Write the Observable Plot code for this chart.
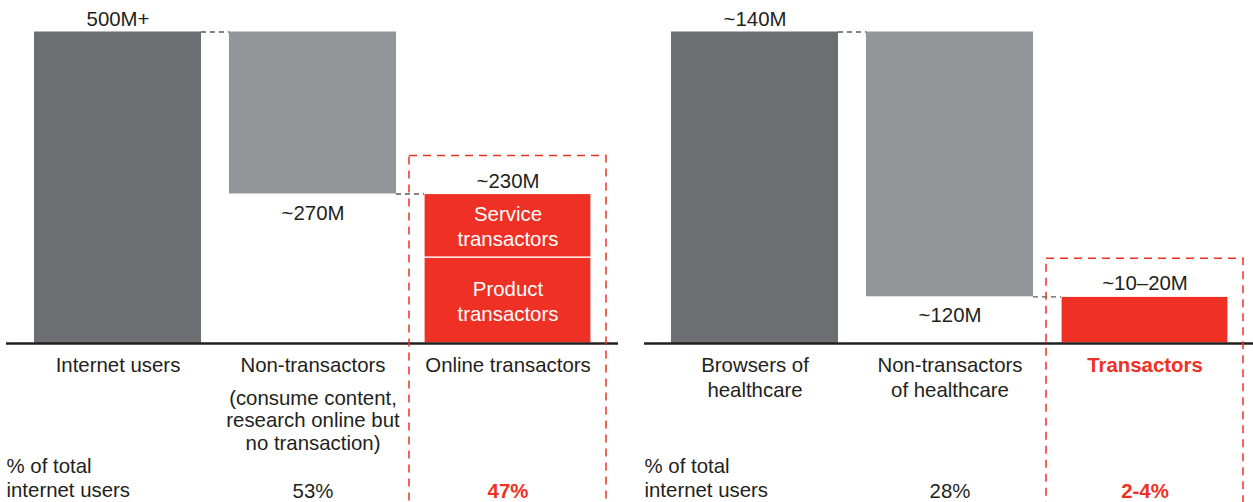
<!DOCTYPE html>
<html><head><meta charset="utf-8">
<script src="https://cdn.jsdelivr.net/npm/d3@7"></script>
<script src="https://cdn.jsdelivr.net/npm/@observablehq/plot@0.6"></script>
<style>
html,body{margin:0;padding:0;background:#fff;}
#chart{display:flex;width:1253px;height:502px;overflow:hidden;}
#chart svg{display:block;overflow:hidden;}
</style></head><body><div id="chart"></div>
<script>
// ---- Data: left panel (all internet users) ----
const leftCategories = ["Internet users", "Non-transactors", "Online transactors"];
const leftTotal = 500;          // height of first bar (M)
const leftRemain = 240;         // height left after the drop (M)
const leftSegments = ["Product\ntransactors", "Service\ntransactors"];
const leftSegmentValues = [138, 102];
const leftValueLabels = ["500M+", "~270M", "~230M"];
const leftSubLabel = "(consume content,\nresearch online but\nno transaction)";
const leftPercents = ["53%", "47%"];

// ---- Data: right panel (healthcare) ----
const rightCategories = ["Browsers of\nhealthcare", "Non-transactors\nof healthcare", "Transactors"];
const rightTotal = 140;
const rightRemain = 21;
const rightSegments = [""];
const rightSegmentValues = [21];
const rightValueLabels = ["~140M", "~120M", "~10–20M"];
const rightPercents = ["28%", "2-4%"];

const rowLabel = "% of total\ninternet users";

// ---- Styles ----
const DARK = "#6d6e71", LIGHT = "#939598", RED = "#ee3124", INK = "#231f20", CONNECT = "#58595b";
const FONT = "'Liberation Sans', Arial, Helvetica, sans-serif";
const FS = 20.4;
const PAD = 0.144;

function panel(o) {
  const {width, marginLeft, marginRight, categories, total, remain, segments, segmentValues,
         valueLabels, subLabel, percents, highlightLast, baseInsetLeft, baseInsetRight} = o;
  const step = (width - marginLeft - marginRight) / (categories.length - PAD);
  const bw = step * (1 - PAD);
  const gap = step - bw;
  const [c0, c1, c2] = categories;
  const segData = segments.map((s, i) => ({cat: c2, label: s, value: segmentValues[i]}));
  let acc = 0;
  const segMid = segData.map(d => { const m = acc + d.value / 2; acc += d.value; return {...d, mid: m}; });
  const normalCats = highlightLast ? [c0, c1] : [c0, c1, c2];
  const boldCats = highlightLast ? [c2] : [];

  return Plot.plot({
    width, height: 502,
    marginTop: 31.5, marginBottom: 159, marginLeft, marginRight,
    style: {fontFamily: FONT, background: "#fff", overflow: "hidden"},
    x: {domain: categories, paddingInner: PAD, paddingOuter: 0, axis: null},
    y: {domain: [0, total], axis: null},
    marks: [
      Plot.barY([{cat: c0, y1: 0, y2: total}], {x: "cat", y1: "y1", y2: "y2", fill: DARK}),
      Plot.barY([{cat: c1, y1: remain, y2: total}], {x: "cat", y1: "y1", y2: "y2", fill: LIGHT}),
      Plot.barY(segData, {x: "cat", y: "value", fill: RED, stroke: "#fff", strokeWidth: 1.2}),
      // connectors
      Plot.tickY([{cat: c0, v: total}], {x: "cat", y: "v", stroke: CONNECT, strokeWidth: 1.3,
        strokeDasharray: "5,4", insetLeft: bw, insetRight: -gap}),
      Plot.tickY([{cat: c1, v: remain}], {x: "cat", y: "v", stroke: CONNECT, strokeWidth: 1.3,
        strokeDasharray: "5,4", insetLeft: bw, insetRight: -gap}),
      // baseline
      Plot.ruleY([0], {stroke: INK, strokeWidth: 2.5, insetLeft: baseInsetLeft, insetRight: baseInsetRight}),
      // highlight dashed box
      Plot.barY([{cat: c2, y1: 0, y2: remain}], {x: "cat", y1: "y1", y2: "y2", fill: "none",
        stroke: RED, strokeWidth: 1.5, strokeDasharray: "8,6",
        insetTop: -38, insetLeft: -15, insetRight: -15, insetBottom: -250}),
      // value labels
      Plot.text([{cat: c0, v: total, t: valueLabels[0]}], {x: "cat", y: "v", text: "t", dy: -12.5,
        fontSize: FS, fill: INK}),
      Plot.text([{cat: c1, v: remain, t: valueLabels[1]}], {x: "cat", y: "v", text: "t", dy: 19,
        fontSize: FS, fill: INK}),
      Plot.text([{cat: c2, v: remain, t: valueLabels[2]}], {x: "cat", y: "v", text: "t", dy: -13,
        fontSize: FS, fill: INK}),
      // segment labels inside red bar
      Plot.text(segMid.filter(d => d.label), {x: "cat", y: "mid", text: "label", fill: "#fff",
        fontSize: FS, lineHeight: 1.23}),
      // category labels
      Plot.text(normalCats, {x: d => d, y: () => 0, text: d => d, lineAnchor: "top", dy: 10.9,
        fontSize: FS, lineHeight: 1.22, fill: INK}),
      Plot.text(boldCats, {x: d => d, y: () => 0, text: d => d, lineAnchor: "top", dy: 10.9,
        fontSize: FS, lineHeight: 1.22, fill: RED, fontWeight: "bold"}),
      // sub label
      Plot.text(subLabel ? [subLabel] : [], {x: () => c1, y: () => 0, text: d => d, lineAnchor: "top",
        dy: 45.4, fontSize: FS, lineHeight: 1.10, fill: INK}),
      // row label
      Plot.text([rowLabel], {y: () => 0, frameAnchor: "left", text: d => d, textAnchor: "start",
        lineAnchor: "top", dx: baseInsetLeft, dy: 113.1, fontSize: FS, lineHeight: 1.15, fill: INK}),
      // percents
      Plot.text([{cat: c1, t: percents[0]}], {x: "cat", y: () => 0, text: "t", dy: 147.8,
        fontSize: FS, fill: INK}),
      Plot.text([{cat: c2, t: percents[1]}], {x: "cat", y: () => 0, text: "t", dy: 147.8,
        fontSize: FS, fill: RED, fontWeight: "bold"})
    ]
  });
}

const chart = document.getElementById("chart");
chart.append(panel({
  width: 625, marginLeft: 34, marginRight: 34,
  categories: leftCategories, total: leftTotal, remain: leftRemain,
  segments: leftSegments, segmentValues: leftSegmentValues,
  valueLabels: leftValueLabels, subLabel: leftSubLabel, percents: leftPercents,
  highlightLast: false, baseInsetLeft: -28, baseInsetRight: -27
}));
chart.append(panel({
  width: 628, marginLeft: 46, marginRight: 25,
  categories: rightCategories, total: rightTotal, remain: rightRemain,
  segments: rightSegments, segmentValues: rightSegmentValues,
  valueLabels: rightValueLabels, subLabel: null, percents: rightPercents,
  highlightLast: true, baseInsetLeft: -27, baseInsetRight: -25
}));
</script></body></html>
